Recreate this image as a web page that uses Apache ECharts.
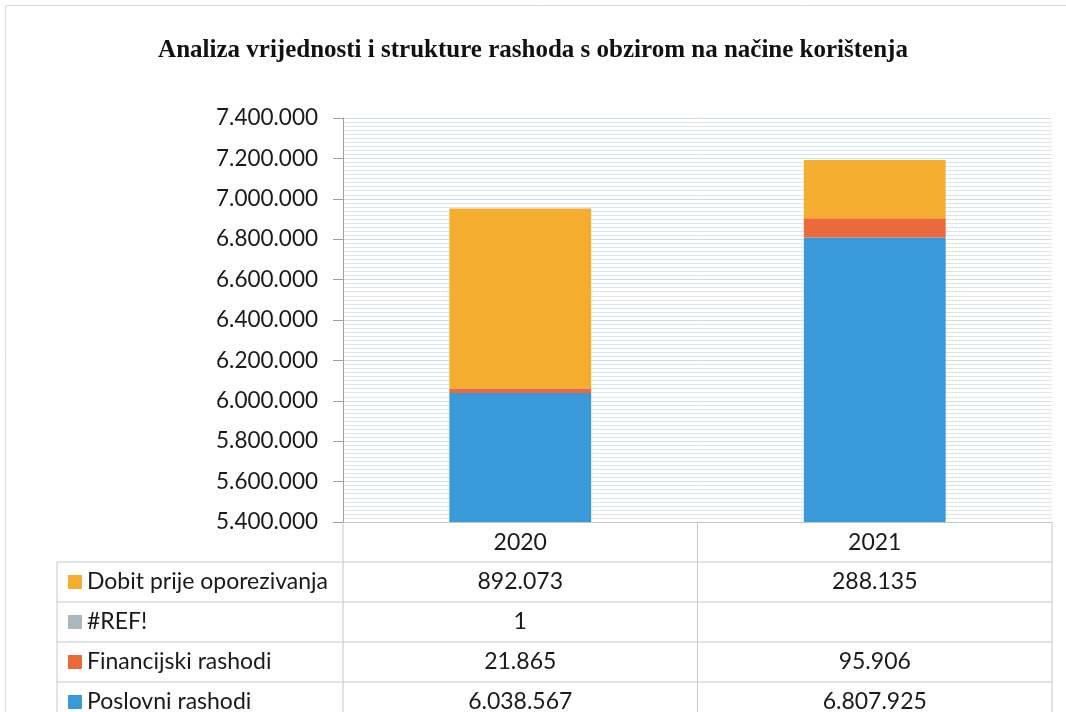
<!DOCTYPE html>
<html>
<head>
<meta charset="utf-8">
<script src="https://cdn.jsdelivr.net/npm/echarts@6/dist/echarts.min.js"></script>
<style>
html,body{margin:0;padding:0;background:#fff;}
#chart{width:1066px;height:712px;}
</style>
</head>
<body>
<div id="chart"></div>
<script>
var titleText = 'Analiza vrijednosti i strukture rashoda s obzirom na načine korištenja';
var categories = ['2020', '2021'];
var seriesNames = ['Poslovni rashodi', 'Financijski rashodi', '#REF!', 'Dobit prije oporezivanja'];
var poslovni = [6038567, 6807925];
var financijski = [21865, 95906];
var ref = [1, null];
var dobit = [892073, 288135];
var colors = ['#3a9ad9', '#ea6a3c', '#a9b7bf', '#f4ad2e'];
var yMin = 5400000, yMax = 7400000, yStep = 200000;

var seriesData = [poslovni, financijski, ref, dobit];
var FONT = 'Lato';

function fmt(v) {
  if (v === null || v === undefined) return '';
  return String(v).replace(/\B(?=(\d{3})+(?!\d))/g, '.');
}

var chart = echarts.init(document.getElementById('chart'), null, {renderer: 'canvas'});

var series = seriesNames.map(function (name, i) {
  return {
    name: name,
    type: 'bar',
    stack: 'total',
    barWidth: '40%',
    itemStyle: {color: colors[i]},
    data: seriesData[i]
  };
});

var grid = {left: 343, right: 14, top: 118, bottom: 190};

chart.setOption({
  animation: false,
  backgroundColor: '#ffffff',
  title: {
    text: titleText,
    left: 'center',
    top: 33,
    textStyle: {fontFamily: 'Liberation Serif', fontWeight: 'bold', fontSize: 25, color: '#111'}
  },
  grid: grid,
  xAxis: {
    type: 'category',
    data: categories,
    axisLine: {show: true, lineStyle: {color: '#bfc5c9', width: 1}},
    axisTick: {show: false},
    axisLabel: {fontFamily: FONT, fontSize: 23, color: '#1a1a1a', margin: 9}
  },
  yAxis: {
    type: 'value',
    min: yMin,
    max: yMax,
    interval: yStep,
    axisLine: {show: true, lineStyle: {color: '#9aa0a4', width: 1}},
    axisTick: {show: true, inside: false, length: 10, lineStyle: {color: '#9aa0a4'}},
    minorTick: {show: false, splitNumber: 10},
    splitLine: {show: true, lineStyle: {color: '#d3dde3', width: 1}},
    minorSplitLine: {show: true, lineStyle: {color: '#dfe6ea', width: 1}},
    axisLabel: {fontFamily: FONT, fontSize: 22.5, color: '#1a1a1a', margin: 25, formatter: fmt}
  },
  series: series
});

// data table below the chart, built from the same arrays
function buildTable() {
  var plotLeft = grid.left;
  var top = chart.convertToPixel({yAxisIndex: 0}, yMin);
  var headerH = 40, rowH = 40;
  var tableLeft = 57;
  var c0 = chart.convertToPixel({xAxisIndex: 0}, categories[0]);
  var c1 = chart.convertToPixel({xAxisIndex: 0}, categories[1]);
  var colW = c1 - c0;
  var lineColor = '#c4c9cc';
  var els = [];
  var nRows = seriesNames.length;
  var bottom = top + headerH + rowH * nRows + 10;
  var xs = [plotLeft];
  for (var k = 0; k < categories.length; k++) xs.push(plotLeft + colW * (k + 1));
  xs.forEach(function (x) {
    els.push({type: 'line', shape: {x1: x, y1: top, x2: x, y2: bottom}, style: {stroke: lineColor, lineWidth: 1}});
  });
  els.push({type: 'line', shape: {x1: tableLeft, y1: top + headerH, x2: tableLeft, y2: bottom}, style: {stroke: lineColor, lineWidth: 1}});
  for (var r = 0; r < nRows; r++) {
    var y = top + headerH + rowH * r;
    els.push({type: 'line', shape: {x1: tableLeft, y1: y, x2: plotLeft + colW * categories.length, y2: y}, style: {stroke: lineColor, lineWidth: 1}});
  }
  for (var i = 0; i < nRows; i++) {
    var si = nRows - 1 - i;
    var cy = top + headerH + rowH * i + rowH / 2;
    els.push({type: 'rect', shape: {x: tableLeft + 11, y: cy - 7, width: 14, height: 14}, style: {fill: colors[si]}});
    els.push({type: 'text', style: {text: seriesNames[si], x: tableLeft + 30, y: cy, textVerticalAlign: 'middle', textAlign: 'left', fontFamily: FONT, fontSize: 23, fill: '#1a1a1a'}});
    for (var j = 0; j < categories.length; j++) {
      var cx = chart.convertToPixel({xAxisIndex: 0}, categories[j]);
      els.push({type: 'text', style: {text: fmt(seriesData[si][j]), x: cx, y: cy, textAlign: 'center', textVerticalAlign: 'middle', fontFamily: FONT, fontSize: 23, fill: '#1a1a1a'}});
    }
  }
  els.push({type: 'rect', shape: {x: 5.5, y: 5.5, width: 1080, height: 720}, style: {fill: 'none', stroke: '#d6dadd', lineWidth: 1}});
  chart.setOption({graphic: {elements: els}});
}
buildTable();
</script>
</body>
</html>
